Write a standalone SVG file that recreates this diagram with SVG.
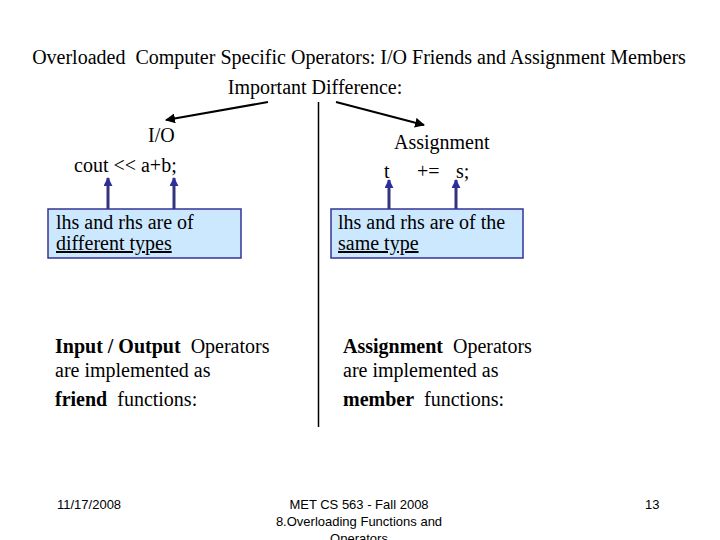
<svg xmlns="http://www.w3.org/2000/svg" width="720" height="540" viewBox="0 0 720 540">
<defs>
<marker id="ah" viewBox="0 0 10 10" refX="9" refY="5" markerWidth="5" markerHeight="5" orient="auto" markerUnits="strokeWidth"><path d="M0,0 L10,5 L0,10 z" fill="#000"/></marker>
<marker id="ahb" viewBox="0 0 10 10" refX="9" refY="5" markerWidth="3" markerHeight="3" orient="auto" markerUnits="strokeWidth"><path d="M0,0 L10,5 L0,10 z" fill="#2E2E99"/></marker>
<style>
.t{font-family:"Liberation Serif","Times New Roman",serif;font-size:20px;fill:#000}
.b{font-weight:bold}
.f{font-family:"Liberation Sans",Arial,sans-serif;font-size:13px;fill:#000}
.box{fill:#CCE8FF;stroke:#333399;stroke-width:1.5}
.blk{stroke:#000;stroke-width:2;fill:none}
.blu{stroke:#333380;stroke-width:3;fill:none}
</style>
</defs>
<rect width="720" height="540" fill="#fff"/>
<g id="title">
<text class="t" x="359" y="64" text-anchor="middle" xml:space="preserve">Overloaded  Computer Specific Operators: I/O Friends and Assignment Members</text>
<text class="t" x="315" y="94" text-anchor="middle">Important Difference:</text>
</g>
<g id="connectors">
<line class="blk" x1="268" y1="102" x2="166" y2="120" marker-end="url(#ah)"/>
<line class="blk" x1="336" y1="102" x2="424" y2="125" marker-end="url(#ah)"/>
<line x1="318.5" y1="102" x2="318.5" y2="427" stroke="#000" stroke-width="1.5"/>
<line class="blu" x1="108" y1="209" x2="108" y2="178" marker-end="url(#ahb)"/>
<line class="blu" x1="174" y1="209" x2="174" y2="178" marker-end="url(#ahb)"/>
<line class="blu" x1="389" y1="209" x2="389" y2="180" marker-end="url(#ahb)"/>
<line class="blu" x1="456" y1="209" x2="456" y2="180" marker-end="url(#ahb)"/>
</g>
<g id="io">
<text class="t" x="148" y="142">I/O</text>
<text class="t" x="74" y="172">cout &lt;&lt; a+b;</text>
</g>
<g id="assign">
<text class="t" x="394" y="149">Assignment</text>
<text class="t" x="384" y="178">t</text>
<text class="t" x="417" y="178">+=</text>
<text class="t" x="456" y="178">s;</text>
</g>
<g id="box-left">
<rect class="box" x="48" y="209" width="193" height="49"/>
<text class="t" x="56" y="229">lhs and rhs are of</text>
<text class="t" x="56" y="250" text-decoration="underline">different types</text>
</g>
<g id="box-right">
<rect class="box" x="331" y="209" width="192" height="49"/>
<text class="t" x="338" y="229">lhs and rhs are of the</text>
<text class="t" x="338" y="250" text-decoration="underline">same type</text>
</g>
<g id="left-desc">
<text class="t" x="55" y="353" xml:space="preserve"><tspan class="b">Input / Output</tspan>  Operators</text>
<text class="t" x="55" y="377">are implemented as</text>
<text class="t" x="55" y="406" xml:space="preserve"><tspan class="b">friend</tspan>  functions:</text>
</g>
<g id="right-desc">
<text class="t" x="343" y="353" xml:space="preserve"><tspan class="b">Assignment</tspan>  Operators</text>
<text class="t" x="343" y="377">are implemented as</text>
<text class="t" x="343" y="406" xml:space="preserve"><tspan class="b">member</tspan>  functions:</text>
</g>
<g id="footer">
<text class="f" x="57" y="509">11/17/2008</text>
<text class="f" x="359" y="509" text-anchor="middle">MET CS 563 - Fall 2008</text>
<text class="f" x="359" y="526" text-anchor="middle">8.Overloading Functions and</text>
<text class="f" x="359" y="543" text-anchor="middle">Operators</text>
<text class="f" x="645" y="509">13</text>
</g>
</svg>
